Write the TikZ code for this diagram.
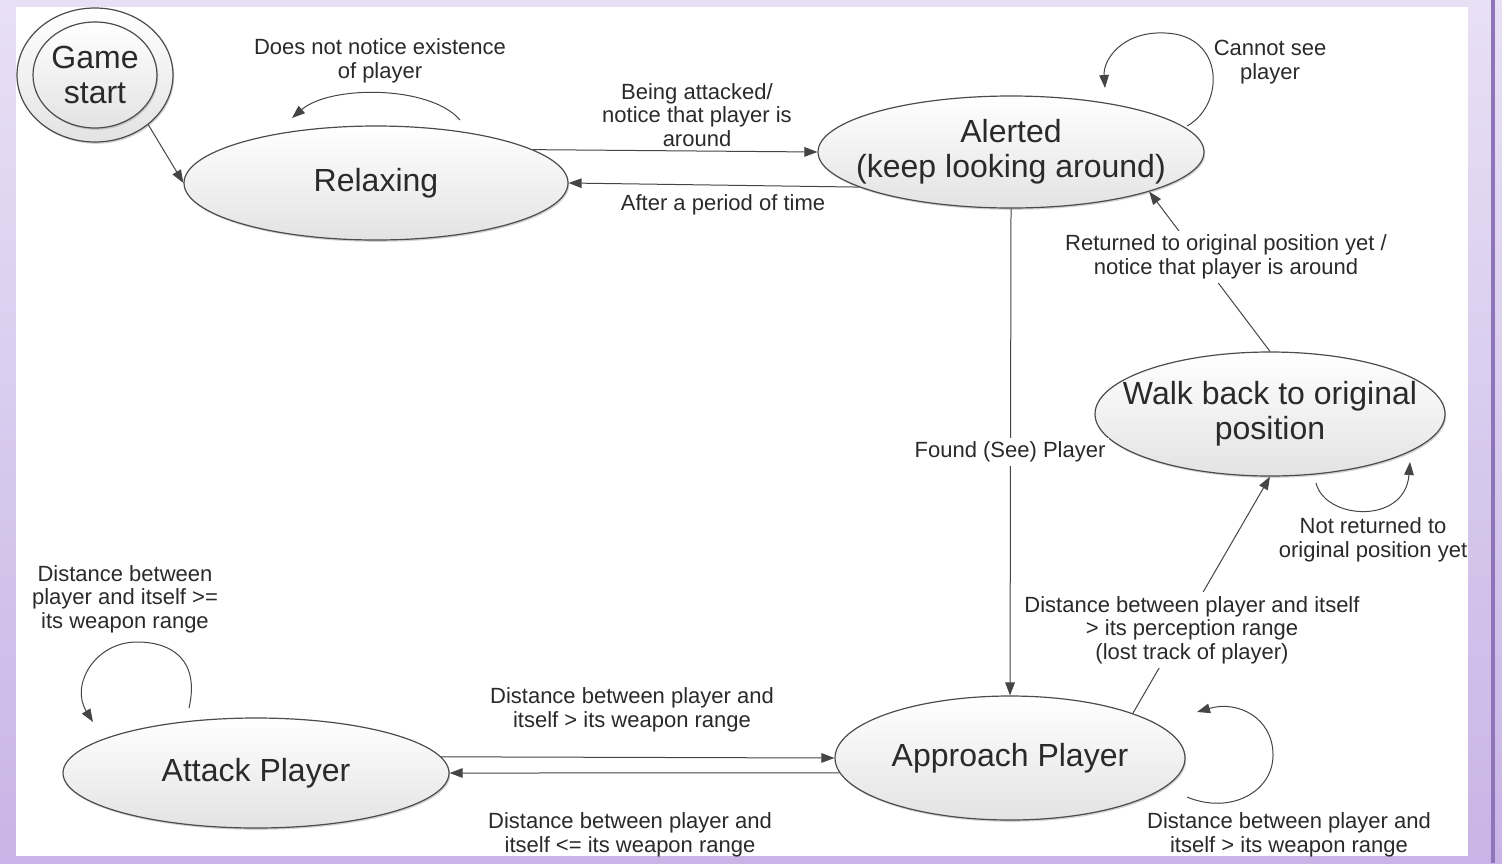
\documentclass[tikz,border=0pt]{standalone}
\usepackage{fontspec}
\setmainfont{Liberation Sans}
\usetikzlibrary{shapes.geometric,arrows.meta,shadows}
\definecolor{bgtop}{HTML}{E8E0F5}
\definecolor{bgbot}{HTML}{C8B4E6}
\definecolor{bgline}{HTML}{8E74B8}
\definecolor{ink}{HTML}{2A2A2A}
\definecolor{edgecol}{HTML}{454545}
\tikzset{
  state/.style={ellipse, draw=black!70, line width=0.6pt, inner sep=0pt,
    top color=white, bottom color=black!11, text=ink,
    font=\fontsize{16}{17.5}\selectfont, align=center,
    drop shadow={opacity=0.35, shadow xshift=0.6pt, shadow yshift=-0.9pt}},
  lbl/.style={font=\fontsize{11}{11.8}\selectfont, align=center, text=ink, inner sep=1pt},
  wlbl/.style={lbl, fill=white, inner sep=2pt},
  edge/.style={draw=edgecol, line width=0.5pt, -{Triangle[length=6.5pt,width=4.8pt]}},
}
\begin{document}
\begin{tikzpicture}[x=0.5pt,y=-0.5pt]
\useasboundingbox (0,0) rectangle (1502,863);
% background frame
\shade[top color=bgtop, bottom color=bgbot] (0,0) rectangle (1502,863);
\fill[bgline] (1491,0) rectangle (1495,863);
\fill[white] (16,7) rectangle (1468,856);

% states
\node[state, minimum width=78pt, minimum height=67pt] (gs) at (95,75) {};
\node[state, minimum width=62pt, minimum height=53pt, drop shadow={opacity=0}] (gsin) at (95,75) {Game\\start};
\node[state, minimum width=192pt, minimum height=57pt] (relax) at (376,183) {Relaxing};
\node[state, minimum width=193pt, minimum height=56pt, inner xsep=-10pt] (alert) at (1011,152) {Alerted\\(keep looking around)};
\node[state, minimum width=175pt, minimum height=62pt, inner xsep=-14.5pt] (walk) at (1270,414) {Walk back to original\\position};
\node[state, minimum width=175pt, minimum height=62pt] (app) at (1010,758) {Approach Player};
\node[state, minimum width=193pt, minimum height=55pt] (attack) at (256,773) {Attack Player};

% connectors
\draw[edge] (gs.-43) -- (relax.west);
\draw[edge] (relax.12) -- (alert.west);
\draw[edge] (alert.193) -- (relax.east);
\draw[edge] (alert.south) -- (app.north);
\draw[edge] (walk.north) -- (alert.-16.7);
\draw[edge] (app.20) -- (walk.south);
\draw[edge] (attack.5.6) -- (app.west);
\draw[edge] (app.185) -- (attack.east);

% self loops
\draw[edge] ([shift={(84,-63)}]relax.center) .. controls (430,85) and (330,85) .. ([shift={(-84,-65)}]relax.center);
\draw[edge] ([shift={(176,-26)}]alert.center) .. controls (1225,105) and (1225,35) .. (1165,33)
   .. controls (1122,31) and (1103,60) .. ([shift={(94,-64)}]alert.center);
\draw[edge] ([shift={(46,69)}]walk.center) .. controls (1325,520) and (1405,525) .. ([shift={(140,48)}]walk.center);
\draw[edge] ([shift={(177,39)}]app.center) .. controls (1230,815) and (1273,792) .. (1273,755)
   .. controls (1273,718) and (1238,700) .. ([shift={(187,-46)}]app.center);
\draw[edge] ([shift={(-67,-65)}]attack.center) .. controls (200,660) and (172,642) .. (137,642)
   .. controls (95,642) and (70,685) .. ([shift={(-163,-51)}]attack.center);

% labels
\node[lbl] (l1) at (380,61) {Does not notice existence\\of player};
\node[lbl] (l2) at (697,115) {Being attacked/\\notice that player is\\around};
\node[lbl] (l3) at (723,205) {After a period of time};
\node[lbl] (l4) at (1270,62) {Cannot see\\player};
\node[wlbl] (l5) at (1010,452) {Found (See) Player};
\node[wlbl] (l6) at (1226,257) {Returned to original position yet /\\notice that player is around};
\node[lbl] (l7) at (1373,540) {Not returned to\\original position yet};
\node[wlbl] (l8) at (1192,630) {Distance between player and itself\\> its perception range\\(lost track of player)};
\node[lbl] (l9) at (1289,835) {Distance between player and\\itself > its weapon range};
\node[lbl] (l10) at (632,710) {Distance between player and\\itself > its weapon range};
\node[lbl] (l11) at (630,835) {Distance between player and\\itself <= its weapon range};
\node[lbl] (l12) at (125,599) {Distance between\\player and itself >=\\its weapon range};
\end{tikzpicture}
\end{document}
